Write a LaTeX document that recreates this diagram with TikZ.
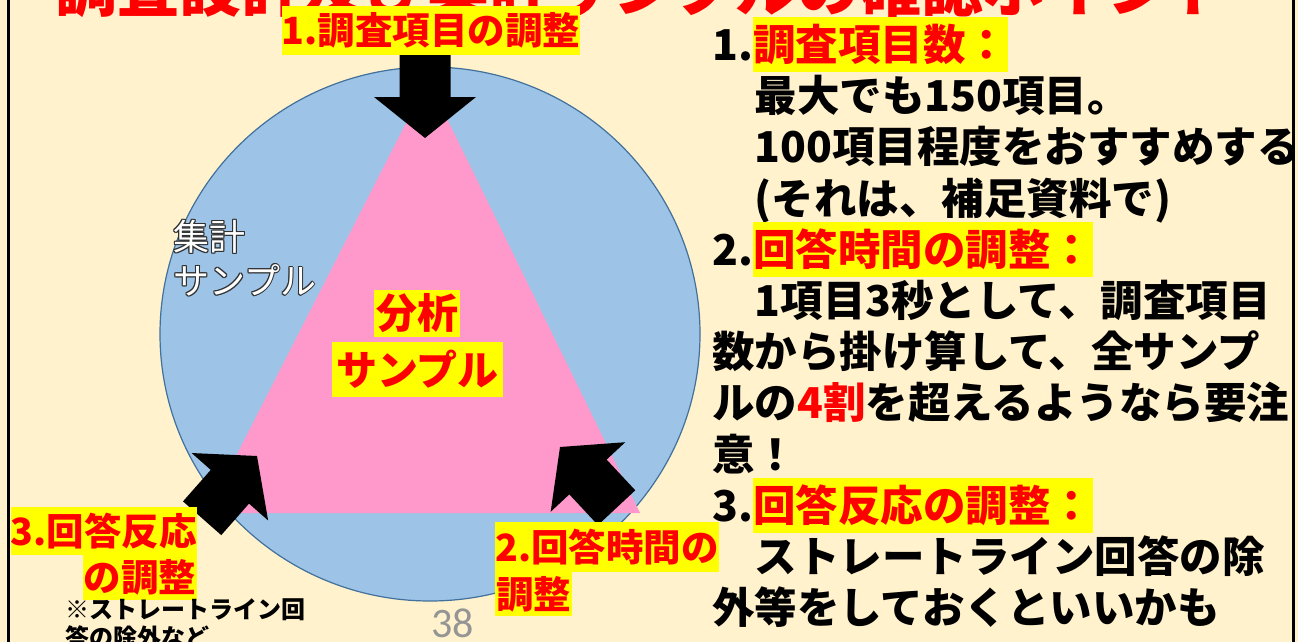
\documentclass[tikz,border=0pt]{standalone}
\usepackage{fontspec}
\setmainfont{Noto Sans CJK JP}
\newfontfamily\numfont{Carlito}
\definecolor{bgcream}{HTML}{FFF2CC}
\definecolor{circblue}{HTML}{9DC3E6}
\definecolor{circedge}{HTML}{41719C}
\definecolor{tripink}{HTML}{FF99CC}
\definecolor{hlyellow}{HTML}{FFFF00}
\definecolor{hlred}{HTML}{FF0000}
\definecolor{outl}{HTML}{303030}
\definecolor{pagegray}{HTML}{959595}
\newcommand\hlt[1]{\begingroup\setlength{\fboxsep}{0pt}\colorbox{hlyellow}{\rule[-0.27em]{0pt}{1.29em}\textcolor{hlred}{#1}}\endgroup}
\newcommand\blockarrow[2]{\fill[black, shift={#1}, rotate=#2] (0,0) -- (-41,51) -- (-41,25.5) -- (-83,25.5) -- (-83,-25.5) -- (-41,-25.5) -- (-41,-51) -- cycle;}
\tikzset{
  body/.style={anchor=base west, inner sep=0pt, font=\fontsize{42.5}{51}\selectfont\bfseries},
  lbl/.style={fill=hlyellow, text=hlred, inner sep=0pt, font=\fontsize{37.5}{40}\selectfont\bfseries},
  biglbl/.style={fill=hlyellow, text=hlred, inner sep=0pt, font=\fontsize{41}{44}\selectfont\bfseries},
  aggtext/.style={anchor=base west, inner sep=0pt, font=\fontsize{36}{40}\selectfont},
  notetext/.style={anchor=base west, inner sep=0pt, font=\fontsize{24}{27}\selectfont\bfseries},
}
\begin{document}
\begin{tikzpicture}[x=1pt,y=-1pt]
\useasboundingbox (0,0) rectangle (1298,642);
\clip (0,0) rectangle (1298,642);
\fill[bgcream] (0,0) rectangle (1298,642);

% clipped title
\node[anchor=base west, inner sep=0pt, text=hlred, font=\fontsize{62}{62}\selectfont\bfseries] (title) at (55,12) {調査設計及び集計サンプルの確認ポイント};

% circle and triangle
\draw[fill=circblue, draw=circedge, line width=1.2pt] (430,334) ellipse [x radius=270pt, y radius=267pt];
\fill[tripink] (428,80) -- (207,513) -- (640,513) -- cycle;

% aggregated sample text (white with dark outline)
\foreach \dx/\dy [count=\k] in {-1/0,1/0,0/-1,0/1,-0.8/-0.8,0.8/-0.8,-0.8/0.8,0.8/0.8} {
  \node[aggtext, text=outl] (aggAo\k) at (173+\dx,250.7+\dy) {集計};
  \node[aggtext, text=outl] (aggBo\k) at (173+\dx,294.7+\dy) {サンプル};
}
\node[aggtext, text=white] (aggA) at (173,250.7) {集計};
\node[aggtext, text=white] (aggB) at (173,294.7) {サンプル};

% analysis sample labels
\node[biglbl, minimum width=86pt, minimum height=47pt] (anaA) at (417,313.5) {分析};
\node[biglbl, minimum width=171pt, minimum height=55pt] (anaB) at (417.5,369.5) {サンプル};

% block arrows
\blockarrow{(425,138)}{-90}
\blockarrow{(257,456)}{48.6}
\blockarrow{(560,447)}{133}

% labels
\node[lbl, minimum width=296pt, minimum height=49pt] (lbl1) at (431,30.5) {1.調査項目の調整};
\node[lbl, minimum width=182pt, minimum height=48pt, anchor=east] (lbl3a) at (197,531) {3.回答反応};
\node[lbl, minimum width=114pt, minimum height=45pt, anchor=east] (lbl3b) at (197,577.5) {の調整};
\node[lbl, minimum width=220pt, minimum height=50pt, anchor=west] (lbl2a) at (495,547) {2.回答時間の};
\node[lbl, minimum width=77pt, minimum height=44pt, anchor=west] (lbl2b) at (495,594) {調整};

% note
\node[notetext] (note1) at (65,618.5) {※ストレートライン回};
\node[notetext] (note2) at (65,646) {答の除外など};

% page number
\node[anchor=base west, inner sep=0pt, text=pagegray, font=\numfont\fontsize{42}{42}\selectfont] (pgnum) at (431,637) {38};

% right column
\node[body] (r1) at (712,60.5) {1.\hlt{調査項目数：}};
\node[body] (r2) at (712,111.7) {　最大でも150項目。};
\node[body] (r3) at (712,162.9) {　100項目程度をおすすめする};
\node[body] (r4) at (712,214.1) {　(それは、補足資料で)};
\node[body] (r5) at (712,265.3) {2.\hlt{回答時間の調整：}};
\node[body] (r6) at (712,316.5) {　1項目3秒として、調査項目};
\node[body] (r7) at (712,367.7) {数から掛け算して、全サンプ};
\node[body] (r8) at (712,418.9) {ルの\textcolor{hlred}{4割}を超えるようなら要注};
\node[body] (r9) at (712,470.1) {意！};
\node[body] (r10) at (712,521.3) {3.\hlt{回答反応の調整：}};
\node[body] (r11) at (712,572.5) {　ストレートライン回答の除};
\node[body] (r12) at (712,623.7) {外等をしておくといいかも};

% frame
\draw[line width=2.2pt] (8.5,-20) rectangle (1293.5,700);
\end{tikzpicture}
\end{document}
